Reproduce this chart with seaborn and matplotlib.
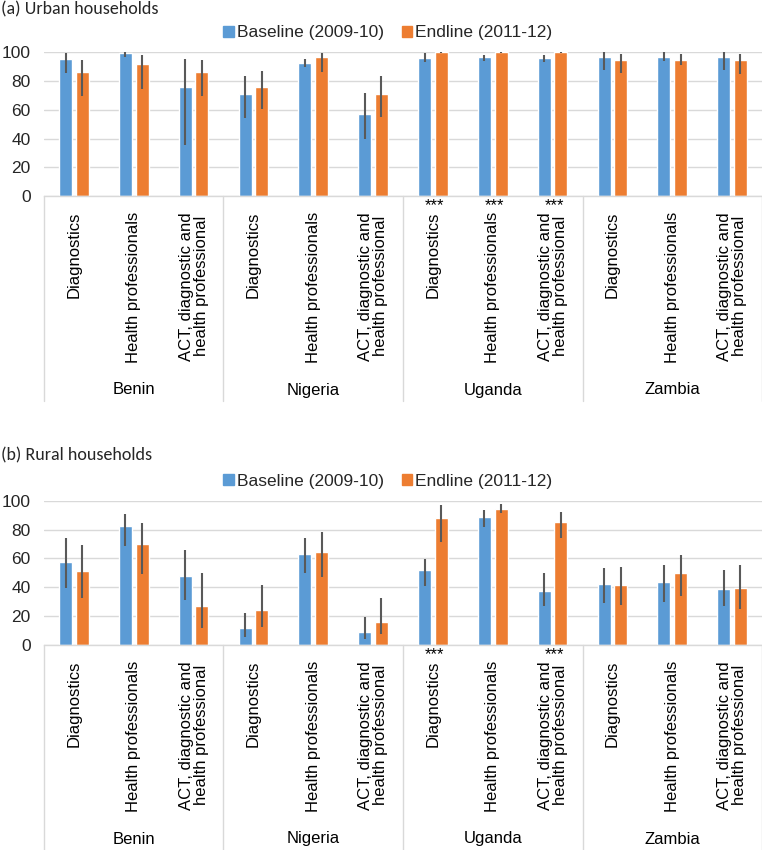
import numpy as np
import pandas as pd
import matplotlib
matplotlib.use('Agg')
import matplotlib.pyplot as plt
import matplotlib.patches as mpatches
import seaborn as sns

# data
countries = ['Benin', 'Nigeria', 'Uganda', 'Zambia']
items = ['Diagnostics', 'Health professionals', 'ACT, diagnostic and\nhealth professional']
periods = ['Baseline (2009-10)', 'Endline (2011-12)']

urban_base = [95.5, 99.7, 75.6, 70.8, 92.8, 56.9, 95.8, 96.5, 95.8, 96.5, 96.5, 96.5]
urban_base_lo = [85.4, 97.0, 35.5, 54.5, 89.5, 40.0, 93.0, 94.2, 93.0, 88.0, 94.0, 87.8]
urban_base_hi = [99.3, 100.0, 95.0, 83.5, 95.0, 71.9, 99.5, 98.0, 98.0, 100.0, 100.0, 100.0]
urban_end = [86.5, 91.9, 86.5, 76.0, 96.5, 71.0, 100.0, 100.0, 100.0, 94.6, 94.6, 94.6]
urban_end_lo = [69.6, 74.7, 69.6, 60.3, 86.5, 54.8, 99.5, 99.5, 99.5, 85.5, 91.0, 85.0]
urban_end_hi = [94.6, 98.0, 94.6, 87.0, 99.3, 83.5, 100.0, 100.0, 100.0, 98.7, 98.7, 98.7]
urban_stars = ['', '', '', '', '', '', '***', '***', '***', '', '', '']

rural_base = [57.7, 82.5, 48.0, 12.0, 63.0, 8.8, 52.2, 88.7, 37.6, 42.0, 43.4, 39.0]
rural_base_lo = [39.3, 68.8, 31.2, 5.8, 50.0, 3.9, 40.9, 81.6, 27.0, 29.3, 29.6, 27.0]
rural_base_hi = [74.0, 90.8, 65.6, 22.4, 74.0, 19.6, 59.4, 93.3, 49.7, 53.4, 55.7, 52.0]
rural_end = [51.0, 70.0, 27.0, 24.3, 64.4, 16.2, 88.2, 94.5, 85.2, 41.6, 49.7, 39.7]
rural_end_lo = [32.8, 49.2, 12.0, 12.7, 47.3, 7.4, 71.6, 91.3, 74.4, 27.7, 34.2, 25.2]
rural_end_hi = [69.0, 84.8, 50.1, 41.4, 78.3, 32.3, 97.0, 97.7, 92.0, 54.3, 62.2, 55.7]
rural_stars = ['', '', '', '', '', '', '***', '', '***', '', '', '']

BLUE = '#5B9BD5'
ORANGE = '#ED7D31'
GRID = '#D9D9D9'
ERR = '#595959'
FONT = ['Liberation Sans', 'DejaVu Sans']

sns.set_theme(style='white')
plt.rcParams['font.family'] = FONT

W, H = 762, 850


def make_df(base, end):
    rows = []
    for ci, c in enumerate(countries):
        for ii, it in enumerate(items):
            k = ci * len(items) + ii
            cat = f'{c}|{it}'
            rows.append({'cat': cat, 'period': periods[0], 'value': base[k]})
            rows.append({'cat': cat, 'period': periods[1], 'value': end[k]})
    return pd.DataFrame(rows)


def draw_panel(ax, title, title_y, base, blo, bhi, end, elo, ehi, stars):
    df = make_df(base, end)
    sns.barplot(data=df, x='cat', y='value', hue='period', hue_order=periods,
                palette=[BLUE, ORANGE], saturation=1, width=0.56, gap=0.22,
                errorbar=None, legend=False, ax=ax, zorder=2)

    # error bars from the bar centres
    for cont, lo, hi in zip(ax.containers, [blo, elo], [bhi, ehi]):
        xs = [b.get_x() + b.get_width() / 2 for b in cont]
        ax.vlines(xs, lo, hi, color=ERR, lw=1.5, zorder=3)

    n = len(countries) * len(items)
    ax.set_xlim(-0.5, n - 0.5)
    ax.set_ylim(0, 100)
    ax.set_yticks(range(0, 101, 20))
    ax.set_xticks([])
    ax.set_xlabel('')
    ax.set_ylabel('')
    ax.tick_params(axis='y', length=0, pad=9.5, labelsize=12.5)
    for lab in ax.get_yticklabels():
        lab.set_family(FONT)
    ax.grid(axis='y', color=GRID, lw=1)
    ax.set_axisbelow(True)
    for s in ['left', 'right', 'top']:
        ax.spines[s].set_visible(False)
    ax.spines['bottom'].set_color(GRID)
    ax.spines['bottom'].set_linewidth(1)

    trans = ax.get_xaxis_transform()
    ax_h_px = ax.get_position().height * H

    # category box separators
    depth = -205 / ax_h_px
    for g in range(len(countries) + 1):
        xg = g * len(items) - 0.5
        ax.plot([xg, xg], [0, depth], color=GRID, lw=1, transform=trans, clip_on=False)

    # category labels (+ significance stars)
    for k in range(n):
        ax.annotate(items[k % len(items)], xy=(k, 0), xycoords=trans,
                    xytext=(0, -16), textcoords='offset pixels',
                    rotation=90, ha='center', va='top', multialignment='center',
                    linespacing=1.0, fontsize=12, color='black', family=FONT)
        if stars[k]:
            ax.annotate(stars[k], xy=(k, 0), xycoords=trans,
                        xytext=(2, -2), textcoords='offset pixels',
                        ha='center', va='top', fontsize=12, color='black', family=FONT)

    # country labels
    for ci, c in enumerate(countries):
        xc = ci * len(items) + (len(items) - 1) / 2
        ax.annotate(c, xy=(xc, 0), xycoords=trans,
                    xytext=(0, -194), textcoords='offset pixels',
                    ha='center', va='center', fontsize=12, color='black', family=FONT)

    handles = [mpatches.Patch(color=BLUE), mpatches.Patch(color=ORANGE)]
    ax.legend(handles, periods, loc='center', bbox_to_anchor=(0.479, 1.135),
              ncol=2, frameon=False, handlelength=0.6, handleheight=0.6,
              handletextpad=0.2, columnspacing=1.0,
              prop={'family': FONT, 'size': 12.5})

    ax.figure.text(1 / W, 1 - title_y / H, title, ha='left', va='top',
                   fontsize=13, family=['Carlito', 'DejaVu Sans'])


fig = plt.figure(figsize=(W / 100, H / 100), dpi=100)
ax1 = fig.add_axes([44 / W, (H - 196) / H, (W - 44) / W, 143.7 / H])
ax2 = fig.add_axes([44 / W, (H - 645) / H, (W - 44) / W, 144.3 / H])

draw_panel(ax1, '(a) Urban households', 1, urban_base, urban_base_lo, urban_base_hi,
           urban_end, urban_end_lo, urban_end_hi, urban_stars)
draw_panel(ax2, '(b) Rural households', 447, rural_base, rural_base_lo, rural_base_hi,
           rural_end, rural_end_lo, rural_end_hi, rural_stars)

fig.savefig('out.png', dpi=100)
